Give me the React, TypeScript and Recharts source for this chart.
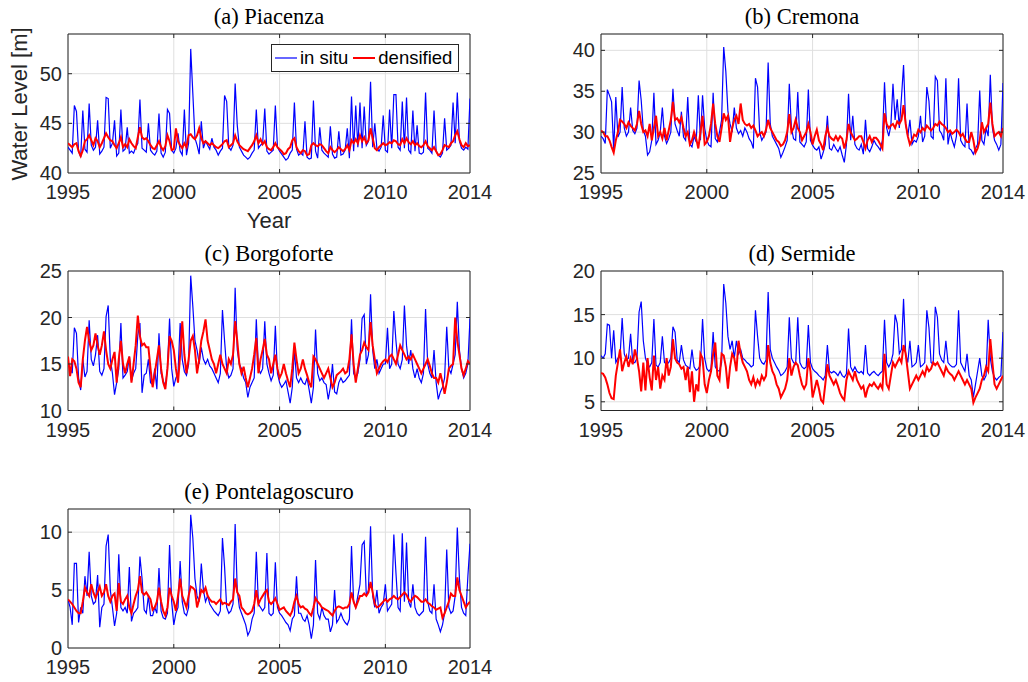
import React from "react";
import {
  LineChart,
  Line,
  XAxis,
  YAxis,
  CartesianGrid,
  ReferenceArea,
  ReferenceLine,
} from "recharts";

// time index: one sample every 0.1 year, 1995.0 .. 2014.0
const years = Array.from({ length: 191 }, (_, i) => Math.round(19950 + i) / 10);
const yearTicks = [1995, 2000, 2005, 2010, 2014];

// (a) Piacenza
const piacenzaInSitu = [
  42.6, 42.3, 42.0, 46.8, 46.2, 42.2, 41.6, 46.3, 42.4, 42.1,
  47.0, 42.8, 42.3, 42.6, 45.3, 41.9, 42.2, 42.6, 47.6, 47.5,
  42.5, 43.0, 45.3, 41.7, 42.0, 46.4, 42.2, 42.4, 44.6, 42.0,
  42.2, 42.0, 42.6, 43.0, 47.4, 42.5, 42.3, 42.1, 45.0, 42.3,
  42.0, 41.8, 42.2, 46.0, 42.0, 41.6, 42.1, 46.4, 46.0, 42.3,
  42.0, 42.5, 44.0, 42.2, 41.8, 46.4, 41.8, 43.0, 52.5, 48.0,
  43.5, 42.8, 41.9, 45.2, 42.5, 43.2, 42.8, 42.4, 43.5, 42.6,
  42.3, 41.8, 42.2, 42.5, 47.8, 47.2, 42.6, 42.3, 42.8, 49.0,
  44.8, 42.6, 42.2, 41.8, 41.6, 41.4, 41.6, 42.0, 42.3, 46.4,
  42.5, 42.8, 43.0, 46.5, 42.2, 41.9, 42.1, 42.3, 46.8, 42.6,
  42.2, 41.9, 41.6, 41.3, 41.5, 42.0, 42.3, 47.1, 42.4, 41.8,
  42.0, 41.8, 45.2, 41.6, 41.4, 41.5, 47.3, 42.2, 41.5, 44.6,
  42.3, 42.0, 41.8, 41.6, 44.7, 41.9, 41.5, 41.6, 44.2, 41.8,
  41.9, 42.3, 44.5, 41.5, 47.7, 42.2, 46.8, 42.6, 47.1, 42.5,
  46.7, 42.8, 43.2, 49.2, 42.6, 45.0, 42.5, 42.2, 42.6, 45.8,
  42.3, 42.1, 46.4, 42.5, 47.9, 47.9, 42.6, 42.3, 47.2, 42.5,
  47.6, 42.3, 42.0, 46.3, 42.2, 44.8, 42.0, 41.9, 42.1, 48.1,
  42.5, 42.3, 42.0, 46.3, 42.2, 41.8, 41.6, 42.0, 45.5, 42.3,
  42.5, 42.8, 47.1, 43.0, 48.1, 43.2, 42.5, 42.3, 42.6, 42.4,
  47.5,
];
const piacenzaDensified = [
  43.0, 42.8, 42.6, 42.9, 43.0, 42.2, 41.7, 42.3, 43.2, 43.4,
  43.8, 43.3, 42.8, 43.5, 43.2, 42.6, 43.0, 43.5, 44.0, 43.6,
  43.3, 43.2, 42.8, 42.5, 43.0, 43.6, 42.6, 42.9, 42.6, 43.4,
  43.0, 42.7, 42.5, 43.6, 44.6, 43.6, 43.4, 43.5, 43.2, 42.8,
  42.5, 42.4, 42.8, 43.2, 42.6, 42.3, 42.7, 43.8, 43.2, 42.3,
  42.4, 44.5, 43.2, 42.8, 42.5, 43.0, 42.6, 43.8, 43.9, 43.6,
  43.4, 43.8, 44.5, 43.5, 43.0, 43.2, 43.0, 42.8, 43.0, 42.8,
  42.6, 42.5, 42.7, 42.9, 43.2, 43.3, 42.6, 42.8, 43.0, 43.8,
  43.2, 42.8, 42.6, 42.4, 42.3, 42.2, 42.5, 42.8, 43.2, 43.8,
  43.0, 43.4, 42.9, 43.2, 42.6, 42.4, 42.3, 42.6, 43.0, 42.6,
  42.4, 42.2, 41.9, 42.0, 42.4, 42.6, 43.3, 43.5, 42.6, 42.2,
  42.0, 42.3, 42.2, 41.8, 41.9, 42.8, 43.0, 42.8, 42.7, 42.9,
  42.8, 42.5, 42.2, 42.0, 42.6, 42.3, 42.1, 42.3, 42.6, 42.4,
  42.2, 42.4, 42.8, 42.3, 43.3, 43.0, 43.4, 43.0, 43.8, 43.2,
  43.6, 43.0, 43.3, 44.5, 43.5, 42.5, 42.3, 42.6, 42.8, 43.0,
  42.8, 42.9, 43.1, 43.0, 43.3, 43.2, 42.9, 42.8, 43.4, 43.0,
  43.5, 43.1, 42.9, 43.2, 42.8, 43.0, 42.7, 42.6, 42.8, 43.2,
  42.7, 42.5, 42.3, 42.6, 42.2, 41.8, 41.9, 42.3, 42.8, 42.7,
  42.6, 43.0, 43.2, 43.8, 44.2, 43.4, 42.8, 42.6, 43.0, 42.7,
  42.8,
];

// (b) Cremona
const cremonaInSitu = [
  29.5, 29.2, 28.6, 35.2, 34.5, 33.7, 27.8, 34.3, 29.4, 30.0,
  35.5, 30.5, 29.5, 30.0, 33.0, 30.2, 29.8, 30.5, 36.3, 33.9,
  30.2, 29.5, 27.2, 27.6, 29.0, 34.8, 28.5, 29.0, 30.0, 33.0,
  29.5, 28.6, 29.2, 30.0, 35.3, 31.0, 30.2, 29.5, 32.5, 29.4,
  29.0, 34.3, 28.5, 28.2, 29.5, 28.8, 34.5, 29.0, 34.5, 30.5,
  29.0, 28.4, 28.2, 34.8, 29.2, 28.8, 30.0, 31.5, 40.4, 37.4,
  32.5, 31.0, 30.0, 33.0, 30.5, 29.8, 30.2, 29.5, 30.5, 30.0,
  29.2, 28.8, 28.0, 36.6, 35.5, 30.0, 29.0, 29.5, 30.0, 38.5,
  31.0, 29.5, 29.0, 28.5, 28.0, 26.9, 27.5, 28.2, 29.0, 35.9,
  30.5, 29.2, 29.0, 34.9, 28.8, 28.5, 28.2, 28.8, 35.2, 29.0,
  28.4, 28.0, 27.8, 28.2, 26.7, 27.5, 28.5, 32.0, 28.0, 27.8,
  28.5, 28.0, 27.6, 28.2, 27.2, 26.3, 28.5, 34.7, 29.0, 32.0,
  28.5, 28.0, 27.8, 28.5, 27.3, 31.5, 28.0, 27.6, 28.2, 29.0,
  28.5, 28.2, 27.8, 29.0, 36.1, 30.5, 29.5, 30.8, 35.9, 31.5,
  34.0, 30.5, 34.2, 38.2, 31.0, 29.5, 31.5, 28.5, 29.0, 28.8,
  29.5, 32.0, 28.8, 29.5, 35.5, 33.8, 29.5, 29.2, 36.8, 36.3,
  30.2, 29.8, 29.0, 36.6, 28.5, 30.0, 29.0, 28.2, 29.5, 36.6,
  29.0, 28.5, 28.2, 33.5, 28.0, 27.8, 27.3, 28.0, 28.5, 35.1,
  29.0, 28.5, 30.5, 29.5, 37.0, 30.5, 29.0, 28.5, 27.8, 28.5,
  36.0,
];
const cremonaDensified = [
  30.2, 30.0, 29.5, 29.5, 29.0, 28.2, 27.5, 29.0, 30.0, 31.5,
  31.3, 31.0, 30.5, 31.2, 30.8, 30.5, 30.2, 31.0, 32.6, 31.0,
  30.0, 30.2, 29.5, 31.0, 29.0, 30.5, 32.0, 29.5, 30.0, 29.2,
  30.5, 29.0, 30.2, 31.5, 33.7, 31.5, 31.7, 31.2, 31.8, 30.5,
  29.5, 30.0, 28.5, 29.0, 30.0, 29.2, 28.0, 30.0, 32.0, 28.5,
  28.8, 29.5, 31.0, 33.5, 31.0, 29.5, 28.8, 30.5, 32.3, 31.5,
  32.0, 28.8, 30.5, 31.5, 32.0, 31.0, 33.5, 31.5, 31.0, 30.8,
  31.0, 30.5, 30.8, 30.2, 29.5, 29.8, 30.0, 29.5, 30.3, 31.5,
  30.5, 30.0, 29.5, 29.0, 28.8, 28.3, 28.5, 29.0, 30.0, 32.2,
  30.0, 30.5, 31.5, 30.5, 30.0, 29.0, 29.5, 30.0, 31.0, 30.0,
  28.5, 29.5, 30.3, 29.0, 28.5, 27.8, 29.5, 30.5, 29.5, 29.2,
  29.0, 29.5, 29.0, 29.5, 29.2, 28.0, 29.0, 31.0, 30.0, 29.5,
  29.0, 29.2, 29.5, 29.5, 28.8, 28.0, 29.0, 29.5, 28.8, 29.3,
  29.3, 29.0, 28.5, 28.0, 32.3, 31.0, 30.5, 30.8, 31.0, 30.5,
  31.3, 31.0, 31.5, 33.3, 31.0, 29.5, 28.5, 29.0, 29.7, 29.5,
  30.3, 30.0, 30.5, 30.2, 30.8, 30.5, 30.2, 30.5, 31.0, 30.8,
  31.3, 31.0, 30.8, 30.5, 30.0, 30.2, 29.8, 30.0, 30.3, 30.0,
  29.5, 29.8, 29.2, 28.8, 28.8, 30.0, 29.0, 27.5, 28.0, 29.0,
  31.2, 30.0, 30.5, 31.0, 33.6, 31.0, 29.5, 29.8, 30.0, 29.5,
  30.5,
];

// (c) Borgoforte
const borgoforteInSitu = [
  15.0, 14.5, 14.0, 18.9, 18.3, 13.5, 12.2, 15.5, 13.6, 14.2,
  19.7, 15.5, 14.8, 16.0, 18.1, 14.2, 13.8, 14.5, 20.1, 21.3,
  15.5, 14.0, 11.7, 13.0, 14.5, 19.4, 13.5, 13.8, 14.2, 15.8,
  13.2, 14.0, 14.5, 18.1, 19.4, 11.9, 13.8, 14.0, 15.5, 13.0,
  12.8, 14.5, 12.3, 18.3, 14.0, 13.2, 12.6, 14.5, 19.9, 14.5,
  12.6, 13.5, 14.0, 19.4, 15.5, 14.2, 13.8, 15.0, 24.5, 21.2,
  17.5, 16.5, 15.0, 16.8, 15.5, 15.0, 15.5, 14.8, 14.5, 14.0,
  13.5, 13.0, 14.0, 20.8, 17.5, 14.5, 13.5, 13.8, 14.5, 23.2,
  16.5, 15.0, 14.5, 13.5, 13.0, 11.4, 12.5, 13.0, 13.5, 19.8,
  14.5, 14.0, 14.5, 19.6, 15.0, 14.0, 13.2, 13.8, 19.1, 14.0,
  13.0, 12.5, 12.8, 13.2, 12.0, 10.8, 12.5, 16.5, 13.5, 13.0,
  13.5, 13.0, 12.8, 13.5, 12.2, 10.8, 12.5, 18.7, 14.0, 13.2,
  13.5, 13.0, 12.8, 11.2, 12.5, 15.0, 12.0, 11.8, 13.0, 13.5,
  13.0, 13.2, 13.5, 13.8, 19.8, 14.0, 13.5, 14.0, 15.5, 19.9,
  20.3, 15.0, 16.0, 22.5, 16.5, 14.5, 15.5, 14.0, 14.5, 15.0,
  15.0, 18.9, 14.5, 15.0, 20.7, 17.5, 15.0, 14.5, 15.5, 21.3,
  17.0, 15.0, 16.5, 14.5, 13.5, 14.5, 13.5, 13.0, 14.0, 20.9,
  15.0, 14.0, 13.5, 16.5, 13.0, 11.2, 12.0, 12.5, 13.5, 19.0,
  14.5, 14.0, 15.0, 16.0, 21.7, 16.5, 14.5, 13.5, 14.0, 15.0,
  19.9,
];
const borgoforteDensified = [
  15.8, 13.7, 15.5, 15.3, 14.5, 13.0, 12.5, 15.5, 17.5, 19.0,
  17.5, 16.5, 17.0, 18.3, 17.0, 16.0, 17.0, 18.5, 16.5, 15.0,
  14.5, 15.5, 16.3, 13.0, 15.5, 17.5, 15.0, 14.0, 15.0, 15.8,
  13.0, 15.0, 17.0, 20.2, 18.0, 17.0, 17.2, 16.8, 16.8, 14.5,
  12.5, 14.0, 15.5, 17.0, 14.5, 13.0, 12.3, 14.5, 18.0, 17.5,
  16.5, 14.5, 13.0, 16.0, 19.6, 16.0, 14.0, 15.5, 17.5, 18.0,
  16.5, 14.0, 15.5, 17.5, 18.5, 19.8, 17.5, 16.5, 15.5, 15.0,
  14.0, 15.0, 16.0, 15.0, 14.5, 14.0, 15.5, 15.0, 16.0, 19.6,
  17.5, 15.0, 14.0, 14.7, 13.5, 12.5, 13.5, 14.5, 16.0, 17.8,
  14.0, 15.5, 16.5, 17.7, 16.0, 15.5, 14.0, 15.0, 16.0, 14.5,
  13.5, 14.0, 15.0, 14.0, 13.2, 12.5, 14.5, 17.3, 15.5, 14.0,
  14.5, 15.5, 14.5, 13.8, 13.0, 12.5, 15.8, 15.5, 15.0, 14.5,
  14.0, 13.5, 14.0, 14.5, 13.5, 12.5, 13.0, 13.8, 14.0, 14.2,
  14.5, 14.0, 14.2, 15.5, 18.2, 15.0, 13.0, 14.5, 16.0, 16.5,
  17.3, 16.8, 16.5, 19.5, 17.0, 15.5, 14.0, 14.5, 15.0, 15.3,
  15.5, 15.2, 15.8, 16.0, 15.5, 15.0, 16.0, 17.0, 16.5, 16.0,
  15.5, 15.8, 15.5, 16.0, 15.5, 15.0, 14.5, 14.0, 14.5, 15.0,
  15.5, 14.8, 14.0, 13.5, 13.5, 13.0, 14.0, 13.0, 11.8, 13.0,
  14.5, 14.8, 15.0, 20.0, 17.5, 16.0, 14.5, 13.8, 14.5, 15.3,
  15.0,
];

// (d) Sermide
const sermideInSitu = [
  10.3, 10.0, 10.5, 13.9, 13.8, 10.0, 13.2, 9.5, 10.0, 10.2,
  14.6, 10.5, 9.8, 10.0, 12.8, 9.5, 9.5, 10.0, 15.3, 16.5,
  12.0, 10.0, 9.3, 9.0, 9.5, 14.5, 9.2, 9.0, 9.5, 12.5,
  9.5, 9.3, 9.5, 10.0, 13.6, 13.0, 9.8, 9.5, 11.5, 9.8,
  9.2, 9.0, 8.8, 11.0, 9.0, 8.6, 8.8, 9.2, 14.5, 10.0,
  8.8, 8.5, 8.8, 13.0, 9.0, 8.6, 8.5, 9.5, 18.5, 16.3,
  12.5, 11.0, 12.0, 10.0, 12.0, 10.5, 11.0, 10.0, 9.8, 9.5,
  9.3, 9.0, 9.2, 15.5, 12.5, 10.0, 9.5, 9.3, 9.8, 17.6,
  11.0, 10.0, 9.5, 9.0, 8.6, 8.0, 8.2, 8.5, 9.0, 14.7,
  10.0, 9.5, 9.3, 14.7, 9.5, 9.0, 8.8, 9.0, 13.8, 9.5,
  8.8, 8.5, 8.3, 8.0, 7.8, 7.5, 8.0, 11.5, 8.5, 8.3,
  8.5, 8.3, 8.0, 8.5, 8.0, 7.8, 8.2, 13.4, 9.0, 8.5,
  9.0, 8.5, 8.3, 8.5, 8.2, 11.5, 8.3, 8.0, 8.3, 8.5,
  8.2, 8.0, 8.3, 8.5, 14.4, 9.5, 9.0, 9.5, 10.5, 15.0,
  14.0, 10.5, 11.0, 16.8, 10.5, 9.5, 12.0, 9.0, 9.2, 9.5,
  11.5, 9.0, 9.2, 9.5, 15.5, 13.5, 9.5, 9.3, 15.9, 14.7,
  10.5, 9.8, 9.5, 12.0, 9.5, 9.2, 9.0, 9.0, 9.3, 15.5,
  9.5, 9.0, 8.5, 10.5, 8.0, 7.5, 5.5, 7.0, 8.5, 10.0,
  8.0, 7.5, 8.0, 14.4, 10.0, 8.5, 7.8, 7.5, 7.8, 8.0,
  13.0,
];
const sermideDensified = [
  8.3, 8.2, 7.8, 7.0, 6.0, 5.4, 5.3, 8.0, 9.5, 11.0,
  8.5, 9.5, 10.2, 9.0, 10.0, 9.3, 11.0, 10.0, 8.5, 6.2,
  9.5, 6.3, 10.0, 7.8, 6.3, 10.3, 7.5, 9.0, 6.5, 8.0,
  7.5, 10.0, 8.0, 9.0, 12.2, 10.0, 9.5, 9.3, 8.8, 9.0,
  7.5, 9.0, 6.1, 8.5, 5.0, 7.0, 6.2, 10.5, 10.0, 7.0,
  6.0, 7.5, 8.5, 10.5, 11.8, 8.0, 7.5, 10.5, 10.3, 9.0,
  6.5, 9.0, 10.5, 10.0, 8.5, 12.0, 10.5, 9.5, 9.0, 8.5,
  7.5, 7.0, 7.8, 6.8, 7.5, 7.0, 8.0, 7.5, 8.0, 11.5,
  9.5, 8.5, 8.0, 7.0, 6.5, 5.5, 6.0, 6.5, 7.5, 10.0,
  8.0, 9.0, 9.5, 9.2, 8.0, 7.0, 6.5, 7.0, 10.0, 8.5,
  5.5, 6.5, 7.5, 6.5, 5.2, 4.9, 7.0, 9.3, 8.0, 7.5,
  7.0, 7.5, 6.8, 6.0, 5.5, 5.2, 7.5, 8.5, 8.0, 7.5,
  8.5, 7.5, 7.0, 6.5, 6.8, 5.5, 6.5, 7.0, 6.8, 7.2,
  6.8, 6.5, 7.0, 6.5, 10.5, 7.0, 6.5, 8.0, 9.5, 9.0,
  9.5, 10.0, 9.5, 11.5, 10.5, 8.5, 6.5, 7.0, 7.5, 8.0,
  7.5, 8.0, 8.5, 8.0, 9.0, 8.5, 8.8, 9.5, 9.2, 9.5,
  9.0, 8.5, 8.0, 9.0, 8.5, 8.2, 8.0, 7.5, 8.0, 8.5,
  8.0, 7.5, 7.0, 7.5, 7.0, 6.5, 4.9, 5.5, 6.0, 6.5,
  7.5, 8.0, 9.0, 8.5, 12.2, 9.5, 7.0, 6.5, 7.0, 7.5,
  8.0,
];

// (e) Pontelagoscuro
const pontelagoscuroInSitu = [
  4.2, 3.5, 2.0, 7.3, 7.3, 2.2, 3.5, 3.0, 6.2, 4.5,
  8.3, 4.5, 3.8, 4.0, 6.3, 1.8, 3.5, 3.8, 8.8, 9.8,
  5.0, 3.5, 1.9, 3.0, 8.1, 3.5, 3.2, 3.5, 3.0, 7.0,
  2.3, 3.0, 3.2, 3.5, 7.9, 6.0, 3.3, 3.0, 4.5, 2.8,
  2.8, 3.5, 3.0, 6.9, 3.2, 2.6, 2.5, 3.0, 8.9, 4.0,
  2.0, 3.0, 3.5, 7.5, 4.0, 3.0, 2.8, 3.5, 11.5, 9.5,
  6.0, 4.5, 4.0, 7.3, 5.0, 4.0, 4.5, 3.8, 3.5, 3.2,
  3.0, 2.8, 3.2, 9.5, 7.0, 3.5, 3.0, 3.2, 3.8, 10.7,
  5.0, 3.5, 3.0, 2.5, 2.0, 1.1, 1.5, 2.5, 3.0, 8.3,
  3.8, 3.5, 3.2, 3.5, 8.2, 3.0, 2.8, 3.0, 7.4, 3.5,
  3.0, 2.8, 2.5, 2.2, 2.0, 1.5, 2.5, 2.8, 6.2, 3.0,
  3.0, 2.5, 2.3, 2.8, 2.0, 0.8, 2.0, 7.6, 3.0, 2.5,
  3.5, 2.8, 2.5, 2.5, 1.4, 2.0, 5.0, 2.2, 2.5, 3.0,
  2.5, 2.2, 2.0, 2.5, 8.8, 4.0, 3.5, 4.5, 5.5, 8.9,
  9.2, 4.5, 5.0, 10.5, 4.5, 3.5, 5.0, 3.0, 3.5, 3.8,
  5.5, 3.2, 3.5, 3.8, 9.8, 6.5, 3.5, 3.2, 9.9, 4.0,
  9.1, 4.0, 3.5, 5.5, 3.5, 3.0, 2.8, 3.0, 3.2, 9.6,
  4.0, 3.2, 3.0, 5.5, 2.5, 2.0, 1.4, 2.0, 3.0, 8.5,
  3.5, 3.0, 3.2, 4.5, 10.4, 6.0, 3.5, 3.0, 2.8, 6.2,
  9.0,
];
const pontelagoscuroDensified = [
  4.2, 4.0, 3.8, 3.5, 3.2, 3.0, 3.0, 4.0, 5.2, 4.8,
  4.5, 5.5, 4.8, 4.3, 4.8, 5.3, 4.5, 4.8, 5.5, 4.5,
  4.0, 4.5, 4.7, 3.2, 5.6, 4.0, 3.8, 4.2, 4.5, 3.5,
  3.0, 3.8, 4.5, 5.0, 6.2, 4.8, 4.6, 4.8, 4.5, 4.2,
  3.3, 3.5, 4.0, 5.2, 4.0, 3.2, 2.8, 3.5, 5.2, 4.5,
  4.0, 3.2, 4.5, 6.0, 4.5, 4.0, 3.5, 4.5, 5.3, 5.2,
  5.0, 3.5, 4.2, 5.0, 4.8, 5.2, 4.5, 4.2, 4.0, 4.0,
  3.8, 4.0, 4.2, 3.8, 3.9, 3.8, 3.7, 4.0, 4.2, 6.0,
  4.8, 4.5, 3.5, 3.3, 3.0, 2.9, 3.0, 3.2, 3.8, 5.0,
  3.8, 4.2, 4.5, 4.8, 5.0, 4.0, 3.8, 4.0, 4.3, 3.8,
  3.3, 3.4, 3.5, 3.2, 3.0, 2.8, 3.2, 4.0, 4.5, 3.8,
  3.5, 3.6, 3.4, 3.3, 3.0, 2.8, 3.5, 4.3, 4.0, 3.8,
  3.5, 3.4, 3.3, 3.2, 3.0, 2.8, 3.2, 3.5, 3.6, 3.5,
  3.4, 3.5, 3.5, 3.8, 4.8, 4.0, 3.5, 4.0, 4.5, 4.5,
  4.7, 4.5, 4.8, 5.7, 4.8, 3.8, 3.5, 3.6, 3.8, 4.0,
  4.2, 4.0, 4.2, 4.3, 4.5, 4.3, 4.2, 4.4, 4.6, 4.8,
  4.6, 4.2, 4.0, 4.3, 4.5, 4.4, 4.2, 4.0, 4.0, 4.2,
  3.9, 3.8, 3.6, 3.5, 3.3, 3.4, 3.5, 2.6, 3.0, 3.5,
  4.0, 4.7, 4.5, 4.5, 6.1, 5.0, 4.5, 4.0, 3.5, 3.8,
  4.0,
];

const AXIS = "#262626";
const SANS = "'Liberation Sans', Arial, Helvetica, sans-serif";
const SERIF = "'Liberation Serif', 'Times New Roman', serif";
const tickStyle = { fontSize: 20, fill: AXIS, fontFamily: SANS };

type PanelProps = {
  title: string;
  x: number;
  y: number;
  w: number;
  h: number;
  yDomain: [number, number];
  yTicks: number[];
  inSitu: number[];
  densified: number[];
};

function Panel({ title, x, y, w, h, yDomain, yTicks, inSitu, densified }: PanelProps) {
  const data = years.map((year, i) => ({
    year,
    inSitu: inSitu[i],
    densified: densified[i],
  }));
  const padL = 60;
  const padT = 10;
  const padR = 30;
  const padB = 40;
  // inward tick marks, about 4px long
  const tx = (19 * 4) / w;
  const ty = ((yDomain[1] - yDomain[0]) * 4) / h;
  const innerX = yearTicks.filter((t) => t > 1995 && t < 2014);
  const innerY = yTicks.filter((t) => t > yDomain[0] && t < yDomain[1]);

  return (
    <>
      <div
        style={{
          position: "absolute",
          left: x,
          top: y - 30,
          width: w,
          textAlign: "center",
          fontFamily: SERIF,
          fontSize: 22.5,
          lineHeight: "26px",
          color: "#000",
          whiteSpace: "nowrap",
        }}
      >
        {title}
      </div>
      <div style={{ position: "absolute", left: x - padL, top: y - padT }}>
        <LineChart
          width={w + padL + padR}
          height={h + padT + padB}
          data={data}
          margin={{ top: padT, right: padR, bottom: 0, left: 0 }}
        >
          <CartesianGrid stroke="#dfdfdf" strokeWidth={1} />
          <XAxis
            dataKey="year"
            type="number"
            domain={[1995, 2014]}
            ticks={yearTicks}
            interval={0}
            height={padB}
            axisLine={false}
            tickLine={false}
            tickSize={0}
            tickMargin={12}
            tick={tickStyle}
            allowDataOverflow
          />
          <YAxis
            type="number"
            domain={yDomain}
            ticks={yTicks}
            interval={0}
            width={padL}
            axisLine={false}
            tickLine={false}
            tickSize={0}
            tickMargin={6}
            tick={tickStyle}
            allowDataOverflow
          />
          <Line
            type="linear"
            dataKey="inSitu"
            stroke="#0000ff"
            strokeWidth={1.2}
            dot={false}
            isAnimationActive={false}
          />
          <Line
            type="linear"
            dataKey="densified"
            stroke="#ff0000"
            strokeWidth={2}
            dot={false}
            isAnimationActive={false}
          />
          {innerX.map((t) => (
            <ReferenceLine
              key={"xb" + t}
              segment={[
                { x: t, y: yDomain[0] },
                { x: t, y: yDomain[0] + ty },
              ]}
              stroke={AXIS}
            />
          ))}
          {innerX.map((t) => (
            <ReferenceLine
              key={"xt" + t}
              segment={[
                { x: t, y: yDomain[1] },
                { x: t, y: yDomain[1] - ty },
              ]}
              stroke={AXIS}
            />
          ))}
          {innerY.map((t) => (
            <ReferenceLine
              key={"yl" + t}
              segment={[
                { x: 1995, y: t },
                { x: 1995 + tx, y: t },
              ]}
              stroke={AXIS}
            />
          ))}
          {innerY.map((t) => (
            <ReferenceLine
              key={"yr" + t}
              segment={[
                { x: 2014, y: t },
                { x: 2014 - tx, y: t },
              ]}
              stroke={AXIS}
            />
          ))}
          <ReferenceArea
            x1={1995}
            x2={2014}
            y1={yDomain[0]}
            y2={yDomain[1]}
            fill="none"
            stroke={AXIS}
            strokeWidth={1}
            ifOverflow="visible"
          />
        </LineChart>
      </div>
    </>
  );
}

function LegendBox() {
  const sample = (color: string, width: number) => (
    <svg width={22} height={10} style={{ display: "block" }}>
      <line x1={0} y1={5} x2={22} y2={5} stroke={color} strokeWidth={width} />
    </svg>
  );
  return (
    <div
      style={{
        position: "absolute",
        left: 271,
        top: 44,
        width: 188,
        height: 28,
        boxSizing: "border-box",
        border: `1px solid ${AXIS}`,
        background: "#fff",
        display: "flex",
        alignItems: "center",
        paddingLeft: 3,
        fontFamily: SANS,
        fontSize: 18.5,
        lineHeight: "28px",
        color: "#000",
        whiteSpace: "nowrap",
      }}
    >
      {sample("#0000ff", 1.2)}
      <span style={{ marginLeft: 3 }}>in situ</span>
      <span style={{ marginLeft: 5 }}>{sample("#ff0000", 2)}</span>
      <span style={{ marginLeft: 3 }}>densified</span>
    </div>
  );
}

export default function App() {
  return (
    <div
      style={{
        position: "absolute",
        left: 0,
        top: 0,
        width: 1028,
        height: 682,
        background: "#fff",
        overflow: "hidden",
      }}
    >
      <Panel
        title="(a) Piacenza"
        x={68}
        y={34}
        w={402}
        h={139}
        yDomain={[40, 54]}
        yTicks={[40, 45, 50]}
        inSitu={piacenzaInSitu}
        densified={piacenzaDensified}
      />
      <Panel
        title="(b) Cremona"
        x={601}
        y={34}
        w={402}
        h={139}
        yDomain={[25, 42]}
        yTicks={[25, 30, 35, 40]}
        inSitu={cremonaInSitu}
        densified={cremonaDensified}
      />
      <Panel
        title="(c) Borgoforte"
        x={68}
        y={271}
        w={402}
        h={139.5}
        yDomain={[10, 25]}
        yTicks={[10, 15, 20, 25]}
        inSitu={borgoforteInSitu}
        densified={borgoforteDensified}
      />
      <Panel
        title="(d) Sermide"
        x={601}
        y={271}
        w={402}
        h={139.5}
        yDomain={[4, 20]}
        yTicks={[5, 10, 15, 20]}
        inSitu={sermideInSitu}
        densified={sermideDensified}
      />
      <Panel
        title="(e) Pontelagoscuro"
        x={68}
        y={509}
        w={402}
        h={139}
        yDomain={[0, 12]}
        yTicks={[0, 5, 10]}
        inSitu={pontelagoscuroInSitu}
        densified={pontelagoscuroDensified}
      />
      <LegendBox />
      <div
        style={{
          position: "absolute",
          left: 20,
          top: 103.5,
          transform: "translate(-50%, -50%) rotate(-90deg)",
          fontFamily: SANS,
          fontSize: 22,
          lineHeight: "22px",
          color: AXIS,
          whiteSpace: "nowrap",
        }}
      >
        Water Level [m]
      </div>
      <div
        style={{
          position: "absolute",
          left: 68,
          top: 210,
          width: 402,
          textAlign: "center",
          fontFamily: SANS,
          fontSize: 22,
          lineHeight: "22px",
          color: AXIS,
        }}
      >
        Year
      </div>
    </div>
  );
}
